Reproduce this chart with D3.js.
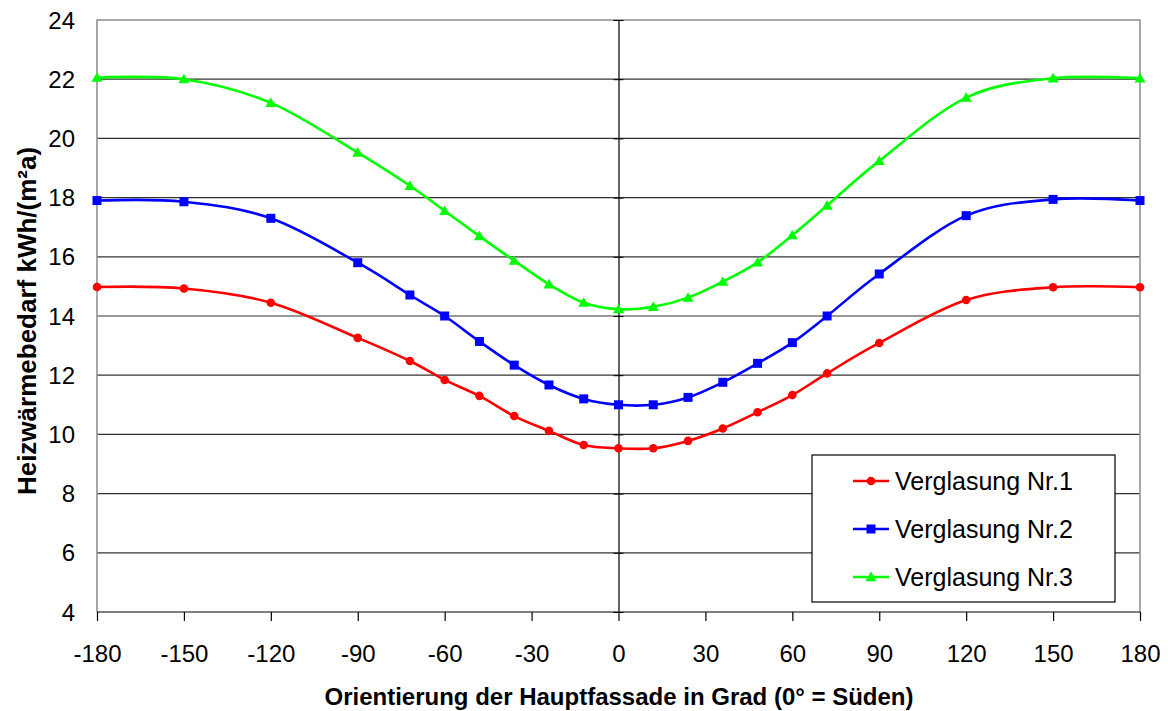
<!DOCTYPE html>
<html>
<head>
<meta charset="utf-8">
<script src="https://cdn.jsdelivr.net/npm/d3@7"></script>
<style>
  html, body { margin: 0; padding: 0; background: #fff; }
  svg { display: block; font-family: "Liberation Sans", Arial, sans-serif; }
</style>
</head>
<body>
<svg id="chart" width="1168" height="711"></svg>
<script>
// Orientation of the main facade in degrees (0° = south)
const orientation = [-180, -150, -120, -90, -72, -60, -48, -36, -24, -12, 0, 12, 24, 36, 48, 60, 72, 90, 120, 150, 180];

// Heating demand in kWh/(m²a) per glazing type
const glazing1 = [14.98, 14.93, 14.45, 13.26, 12.48, 11.84, 11.3, 10.62, 10.12, 9.64, 9.53, 9.53, 9.78, 10.2, 10.75, 11.33, 12.06, 13.09, 14.54, 14.97, 14.97];
const glazing2 = [17.9, 17.86, 17.3, 15.8, 14.71, 14.0, 13.14, 12.34, 11.67, 11.2, 11.0, 11.0, 11.25, 11.76, 12.4, 13.1, 14.0, 15.42, 17.39, 17.94, 17.9];
const glazing3 = [22.05, 22.0, 21.2, 19.52, 18.4, 17.55, 16.7, 15.87, 15.07, 14.45, 14.23, 14.31, 14.62, 15.16, 15.81, 16.73, 17.73, 19.24, 21.38, 22.03, 22.03];

const seriesNames = ["Verglasung Nr.1", "Verglasung Nr.2", "Verglasung Nr.3"];
const seriesColors = ["#ff0000", "#0000ff", "#00ff00"];
const seriesMarkers = ["circle", "square", "triangle"];

const xTicks = [-180, -150, -120, -90, -60, -30, 0, 30, 60, 90, 120, 150, 180];
const yTicks = [4, 6, 8, 10, 12, 14, 16, 18, 20, 22, 24];

const xTitle = "Orientierung der Hauptfassade in Grad (0° = Süden)";
const yTitle = "Heizwärmebedarf kWh/(m²a)";

const svg = d3.select("#chart");
const plot = { left: 97, right: 1140, top: 20, bottom: 612 };

const x = d3.scaleLinear().domain([-180, 180]).range([plot.left, plot.right]);
const y = d3.scaleLinear().domain([4, 24]).range([plot.bottom, plot.top]);

// horizontal gridlines
svg.append("g")
  .selectAll("line")
  .data(yTicks.filter(v => v > 4 && v < 24))
  .join("line")
  .attr("x1", plot.left).attr("x2", plot.right)
  .attr("y1", d => y(d)).attr("y2", d => y(d))
  .attr("stroke", "#333").attr("stroke-width", 1.2);

// plot area border (top / right / left)
svg.append("path")
  .attr("d", `M${plot.left},${plot.bottom}V${plot.top}H${plot.right}V${plot.bottom}`)
  .attr("fill", "none").attr("stroke", "#8c8c8c").attr("stroke-width", 1.5);

// value axis crossing at 0°
const yAxis = d3.axisLeft(y).tickValues(yTicks).tickSize(5).tickFormat("");
const yAxisG = svg.append("g").attr("transform", `translate(${x(0)},0)`).call(yAxis);
yAxisG.select(".domain").attr("stroke", "#000").attr("stroke-width", 1.2);
yAxisG.selectAll(".tick line").attr("stroke", "#000").attr("x2", 5).attr("x1", -5);

// y tick labels at the left edge
svg.append("g")
  .selectAll("text")
  .data(yTicks)
  .join("text")
  .attr("x", 75).attr("y", d => y(d))
  .attr("dy", "0.36em")
  .attr("text-anchor", "end")
  .attr("font-size", 24)
  .attr("fill", "#000")
  .text(d => d);

// category axis at the bottom
const xAxis = d3.axisBottom(x).tickValues(xTicks).tickSize(9).tickPadding(24).tickFormat(d => String(d));
const xAxisG = svg.append("g").attr("transform", `translate(0,${plot.bottom})`).call(xAxis);
xAxisG.select(".domain").attr("stroke", "#000").attr("stroke-width", 1.2).attr("d", `M${plot.left},0H${plot.right}`);
xAxisG.selectAll(".tick line").attr("stroke", "#000").attr("stroke-width", 1.2);
xAxisG.selectAll(".tick text")
  .attr("font-size", 24).attr("fill", "#000")
  .attr("font-family", "Liberation Sans, Arial, sans-serif");

// axis titles
svg.append("text")
  .attr("x", 619).attr("y", 705)
  .attr("text-anchor", "middle")
  .attr("font-size", 24).attr("font-weight", "bold")
  .text(xTitle);

svg.append("text")
  .attr("transform", `translate(36,321) rotate(-90)`)
  .attr("text-anchor", "middle")
  .attr("font-size", 26).attr("font-weight", "bold")
  .text(yTitle);

// marker shapes
function drawMarker(g, type, cx, cy, color) {
  if (type === "circle") {
    g.append("circle").attr("cx", cx).attr("cy", cy).attr("r", 4.3).attr("fill", color);
  } else if (type === "square") {
    g.append("rect").attr("x", cx - 4.5).attr("y", cy - 4.5).attr("width", 9).attr("height", 9).attr("fill", color);
  } else {
    const s = 5.5;
    g.append("path")
      .attr("d", `M${cx},${cy - s}L${cx + s},${cy + s * 0.75}L${cx - s},${cy + s * 0.75}Z`)
      .attr("fill", color);
  }
}

const allSeries = [glazing1, glazing2, glazing3];
const line = d3.line()
  .x(d => x(d[0]))
  .y(d => y(d[1]))
  .curve(d3.curveCatmullRom.alpha(0));

allSeries.forEach((vals, i) => {
  const pts = orientation.map((o, k) => [o, vals[k]]);
  const g = svg.append("g");
  g.append("path")
    .attr("d", line(pts))
    .attr("fill", "none")
    .attr("stroke", seriesColors[i])
    .attr("stroke-width", 2.6);
  pts.forEach(p => drawMarker(g, seriesMarkers[i], x(p[0]), y(p[1]), seriesColors[i]));
});

// legend
const legend = { x: 812, y: 455, w: 303, h: 147 };
svg.append("rect")
  .attr("x", legend.x).attr("y", legend.y)
  .attr("width", legend.w).attr("height", legend.h)
  .attr("fill", "#fff").attr("stroke", "#000").attr("stroke-width", 1.2);

const legendRows = [481, 529, 577];
seriesNames.forEach((name, i) => {
  const g = svg.append("g");
  const ly = legendRows[i];
  g.append("line")
    .attr("x1", 853).attr("x2", 889).attr("y1", ly).attr("y2", ly)
    .attr("stroke", seriesColors[i]).attr("stroke-width", 2.6);
  drawMarker(g, seriesMarkers[i], 871, ly, seriesColors[i]);
  g.append("text")
    .attr("x", 895).attr("y", ly).attr("dy", "0.36em")
    .attr("font-size", 25).attr("fill", "#000")
    .text(name);
});
</script>
</body>
</html>
